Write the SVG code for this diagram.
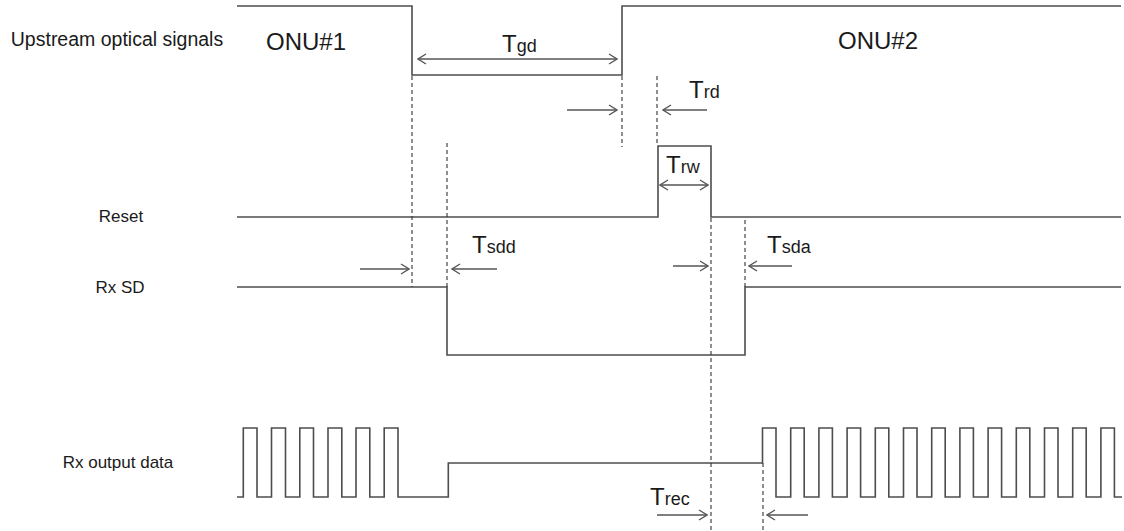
<svg xmlns="http://www.w3.org/2000/svg" width="1124" height="531" viewBox="0 0 1124 531">
<style>
  .sig{fill:none;stroke:#4d4d4d;stroke-width:1.6}
  .dash{fill:none;stroke:#333;stroke-width:1.1;stroke-dasharray:4 3}
  .arr{fill:none;stroke:#555;stroke-width:1.3}
  .lbl{font-family:"Liberation Sans",Arial,sans-serif;fill:#1a1a1a;text-anchor:middle}
  .t{font-family:"Liberation Sans",Arial,sans-serif;fill:#1a1a1a;font-size:24px}
  .s{font-size:18px}
</style>
<defs>
  <marker id="ah" viewBox="0 0 10 12" refX="9" refY="6" markerWidth="10" markerHeight="12" markerUnits="userSpaceOnUse" orient="auto-start-reverse">
    <path d="M1,1 L9,6 L1,11" fill="none" stroke="#555" stroke-width="1.3"/>
  </marker>
</defs>
<rect width="1124" height="531" fill="#fff"/>

<g id="labels">
  <text class="lbl" x="117" y="46" font-size="19.5">Upstream optical signals</text>
  <text class="lbl" x="121" y="222" font-size="17">Reset</text>
  <text class="lbl" x="120" y="293" font-size="17">Rx SD</text>
  <text class="lbl" x="118" y="468" font-size="17">Rx output data</text>
  <text class="lbl" x="306" y="50" font-size="24">ONU#1</text>
  <text class="lbl" x="878" y="49" font-size="24">ONU#2</text>
</g>

<g id="upstream">
  <path class="sig" d="M237,6 H412 V75 H622 V6 H1121"/>
</g>
<g id="reset">
  <path class="sig" d="M237,217 H658 V146 H711 V217 H1121"/>
</g>
<g id="rxsd">
  <path class="sig" d="M237,287 H447 V355 H745 V287 H1121"/>
</g>
<g id="rxdata">
  <path class="sig" d="M237,497 H243.3 V428 H257 V497 H271.5 V428 H285.5 V497 H299.8 V428 H313.5 V497 H328 V428 H341.8 V497 H356 V428 H369.8 V497 H384.2 V428 H398 V497 H448.3 V463 H762.5 V428 H776 V497 H790.7 V428 H804.2 V497 H818.9 V428 H832.4 V497 H847.1 V428 H860.6 V497 H875.3 V428 H888.8 V497 H903.5 V428 H917 V497 H931.7 V428 H945.2 V497 H959.9 V428 H973.4 V497 H988.1 V428 H1001.6 V497 H1016.3 V428 H1029.8 V497 H1044.5 V428 H1058 V497 H1072.7 V428 H1086.2 V497 H1100.9 V428 H1114.4 V497 H1122"/>
</g>

<g id="connectors">
  <line class="dash" x1="412" y1="76" x2="412" y2="287"/>
  <line class="dash" x1="447" y1="143" x2="447" y2="287"/>
  <line class="dash" x1="622" y1="76" x2="622" y2="147"/>
  <line class="dash" x1="657" y1="76" x2="657" y2="146"/>
  <line class="dash" x1="711" y1="218" x2="711" y2="531"/>
  <line class="dash" x1="745" y1="220" x2="745" y2="287"/>
  <line class="dash" x1="763" y1="463" x2="763" y2="531"/>

  <line class="arr" x1="418" y1="59" x2="617" y2="59" marker-start="url(#ah)" marker-end="url(#ah)"/>
  <line class="arr" x1="567" y1="110" x2="617" y2="110" marker-end="url(#ah)"/>
  <line class="arr" x1="707" y1="110" x2="663" y2="110" marker-end="url(#ah)"/>
  <line class="arr" x1="660" y1="185" x2="708" y2="185" marker-start="url(#ah)" marker-end="url(#ah)"/>
  <line class="arr" x1="360" y1="269" x2="409" y2="269" marker-end="url(#ah)"/>
  <line class="arr" x1="497" y1="269" x2="452" y2="269" marker-end="url(#ah)"/>
  <line class="arr" x1="673" y1="266" x2="708" y2="266" marker-end="url(#ah)"/>
  <line class="arr" x1="792" y1="266" x2="749" y2="266" marker-end="url(#ah)"/>
  <line class="arr" x1="657" y1="515" x2="707" y2="515" marker-end="url(#ah)"/>
  <line class="arr" x1="808" y1="515" x2="767" y2="515" marker-end="url(#ah)"/>
</g>

<g id="timing-labels">
  <text class="t" x="502" y="52">T<tspan class="s">gd</tspan></text>
  <text class="t" x="689" y="98">T<tspan class="s">rd</tspan></text>
  <text class="t" x="666" y="173">T<tspan class="s">rw</tspan></text>
  <text class="t" x="472" y="253">T<tspan class="s">sdd</tspan></text>
  <text class="t" x="767" y="253">T<tspan class="s">sda</tspan></text>
  <text class="t" x="650" y="505">T<tspan class="s">rec</tspan></text>
</g>
</svg>
